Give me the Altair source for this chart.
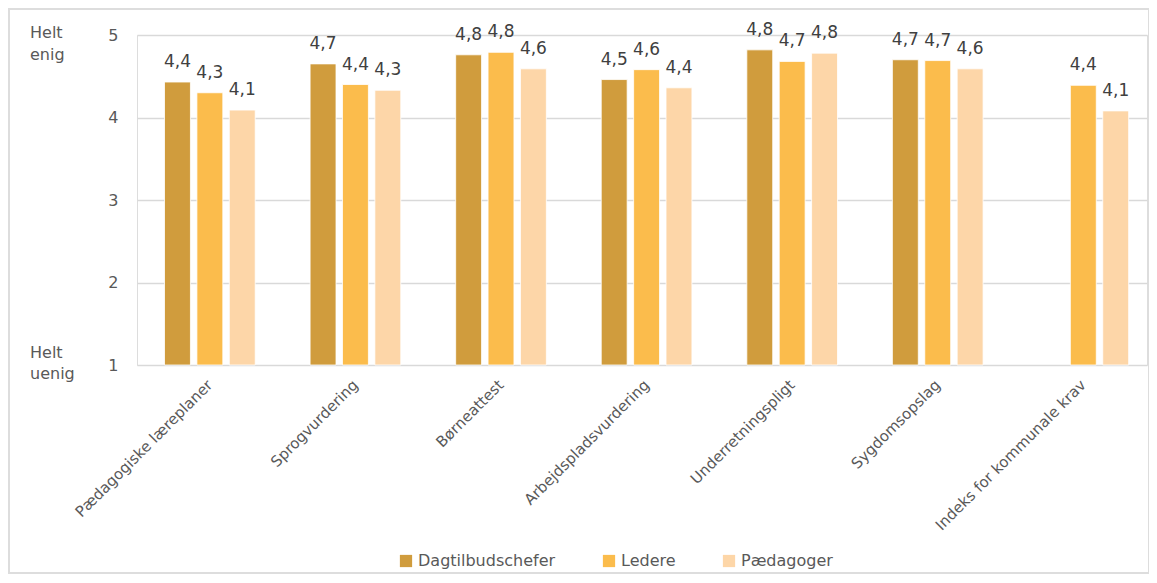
import altair as alt
import pandas as pd

categories = ["Pædagogiske læreplaner", "Sprogvurdering", "Børneattest",
              "Arbejdspladsvurdering", "Underretningspligt", "Sygdomsopslag",
              "Indeks for kommunale krav"]
groups = ["Dagtilbudschefer", "Ledere", "Pædagoger"]
colors = ["#D09C3D", "#FBBC4C", "#FDD6A8"]

dagtilbudschefer = [4.43, 4.65, 4.76, 4.46, 4.82, 4.70, None]
ledere = [4.30, 4.40, 4.79, 4.58, 4.68, 4.69, 4.39]
paedagoger = [4.09, 4.33, 4.59, 4.36, 4.78, 4.59, 4.08]

y_ticks = [1, 2, 3, 4, 5]
end_labels = ["Helt\nenig", "Helt\nuenig"]
end_values = [5, 1]

rows = []
for g, vals in zip(groups, [dagtilbudschefer, ledere, paedagoger]):
    for c, v in zip(categories, vals):
        if v is None:
            continue
        rows.append({"kategori": c, "gruppe": g, "vaerdi": v,
                     "label": f"{v:.1f}".replace(".", ",")})
df = pd.DataFrame(rows)

FONT = "DejaVu Sans"
W, H = 1010, 330

x_enc = alt.X("kategori:N", sort=categories, title=None,
              scale=alt.Scale(paddingInner=0.377, paddingOuter=0.1575, align=0.6),
              axis=alt.Axis(labelAngle=-45, labelAlign="right", labelBaseline="middle",
                            labelPadding=17, ticks=False, domain=False, grid=False,
                            labelFont=FONT, labelFontSize=15, labelColor="#595959",
                            labelLimit=400))
xoff = alt.XOffset("gruppe:N", sort=groups,
                   scale=alt.Scale(paddingInner=0.2, paddingOuter=0))
y_enc = alt.Y("vaerdi:Q", title=None,
              scale=alt.Scale(domain=[1, 5], zero=False, nice=False),
              axis=alt.Axis(values=y_ticks, format="d", ticks=False, domain=False,
                            grid=True, gridColor="#D9D9D9", gridWidth=1.5,
                            labelPadding=19, labelFont=FONT, labelFontSize=16,
                            labelColor="#595959"))

base = alt.Chart(df)

bars = base.mark_bar(stroke="#FFFFFF", strokeWidth=0.8).encode(
    x=x_enc, xOffset=xoff, y=y_enc, y2=alt.datum(1),
    color=alt.Color("gruppe:N", sort=groups, title=None,
                    scale=alt.Scale(domain=groups, range=colors),
                    legend=alt.Legend(orient="none", legendX=261, legendY=518,
                                      direction="horizontal", symbolType="square",
                                      symbolSize=150, symbolStrokeWidth=0,
                                      columnPadding=45, labelOffset=4,
                                      labelFont=FONT, labelFontSize=16,
                                      labelColor="#595959")),
)

labels = base.mark_text(baseline="alphabetic", dy=-15, font=FONT, fontSize=17,
                        color="#404040").encode(
    x=alt.X("kategori:N", sort=categories),
    xOffset=alt.XOffset("gruppe:N", sort=groups),
    y="vaerdi:Q", text="label:N",
)

end_df = pd.DataFrame({"tekst": end_labels, "v": end_values})
end_base = alt.Chart(end_df)
ends_top = end_base.transform_filter(alt.datum.v == 5).mark_text(
    align="left", baseline="top", dy=-10, font=FONT, fontSize=16,
    color="#595959", lineBreak="\n", lineHeight=22).encode(
    x=alt.value(-107), y=alt.Y("v:Q"), text="tekst:N")
ends_bottom = end_base.transform_filter(alt.datum.v == 1).mark_text(
    align="left", baseline="top", dy=-20, font=FONT, fontSize=16,
    color="#595959", lineBreak="\n", lineHeight=21).encode(
    x=alt.value(-107), y=alt.Y("v:Q"), text="tekst:N")

frame = alt.Chart(pd.DataFrame({"a": [0]})).mark_rect(
    fill=None, stroke="#DDDDDD", strokeWidth=2).encode(
    x=alt.value(-128), x2=alt.value(W + 2), y=alt.value(-26), y2=alt.value(H + 208))

chart = alt.layer(frame, bars, labels, ends_top, ends_bottom).properties(
    width=W, height=H,
    autosize=alt.AutoSizeParams(type="none"),
    padding={"left": 129, "top": 27, "right": 2, "bottom": 210},
).configure_view(stroke=None).configure(background="#FFFFFF")

chart.save("out.html", embed_options={"renderer": "svg", "actions": False})
